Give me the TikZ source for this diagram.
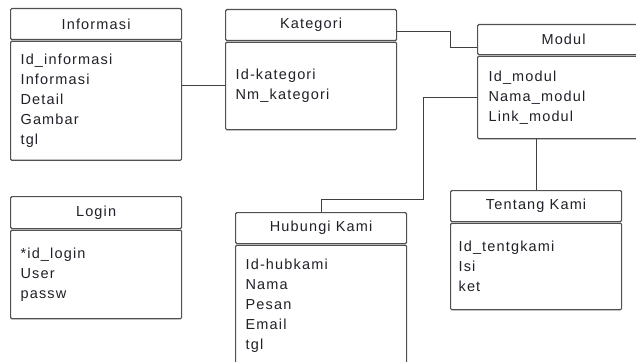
\documentclass[tikz,border=0pt]{standalone}
\usepackage{fontspec}
\setmainfont{Liberation Sans}[LetterSpace=8]
\usetikzlibrary{positioning}

\definecolor{boxline}{HTML}{505050}
\definecolor{wireline}{HTML}{404040}
\definecolor{ink}{HTML}{202028}

\tikzset{
  head/.style={draw=boxline, line width=1.2pt, rounded corners=1.2pt, anchor=north west,
    inner sep=0pt, minimum width=171pt, minimum height=31pt,
    font=\fontsize{14.5}{20}\selectfont, text=ink},
  attr/.style={draw=boxline, line width=1.2pt, rounded corners=1.2pt, anchor=north west,
    inner xsep=10pt, inner ysep=0pt, text width=151pt, align=left, minimum height=#1,
    font=\fontsize{14.5}{20}\selectfont, text=ink},
  wire/.style={draw=wireline, line width=1pt}
}

\begin{document}
\begin{tikzpicture}[x=1pt,y=-1pt]
	\useasboundingbox (0,0) rectangle (636,361);
	\clip (0,0) rectangle (636,361);
	% tables
	\node[head] (infohead) at (10,8) {Informasi};
	\node[attr=119pt, below=0.4pt of infohead.south west, anchor=north west] (infobody) {Id\_informasi\\Informasi\\Detail\\Gambar\\tgl};
	\node[head] (kathead) at (225,9) {Kategori};
	\node[attr=87.5pt, below=0.4pt of kathead.south west, anchor=north west] (katbody) {Id-kategori\\Nm\_kategori};
	\node[head, minimum width=172pt, minimum height=30pt] (modhead) at (477,24) {Modul};
	\node[attr=82.5pt, inner xsep=11pt, text width=150pt, below=0.4pt of modhead.south west, anchor=north west] (modbody) {Id\_modul\\Nama\_modul\\Link\_modul};
	\node[head, minimum height=32pt] (loginhead) at (10,196) {Login};
	\node[attr=88.5pt, below=0.4pt of loginhead.south west, anchor=north west] (loginbody) {*id\_login\\User\\passw};
	\node[head] (hubhead) at (235,212) {Hubungi Kami};
	\node[attr=121pt, below=0.4pt of hubhead.south west, anchor=north west] (hubbody) {Id-hubkami\\Nama\\Pesan\\Email\\tgl};
	\node[head] (tenhead) at (450,190) {Tentang Kami};
	\node[attr=86.5pt, inner xsep=8pt, text width=155pt, below=0.4pt of tenhead.south west, anchor=north west] (tenbody) {Id\_tentgkami\\Isi\\ket};
	% relations
	\draw[wire] (infobody.east |- katbody.west) -- (katbody.west);
	\draw[wire] ([yshift=-6.5pt]kathead.east) -- ++(53,0) |- ([yshift=-8pt]modhead.west);
	\draw[wire] (modbody.west) -- ++(-54,0) |- ([yshift=13pt]hubhead.north) -- (hubhead.north);
	\draw[wire] (modbody.south -| tenhead.north) -- (tenhead.north);
\end{tikzpicture}
\end{document}
